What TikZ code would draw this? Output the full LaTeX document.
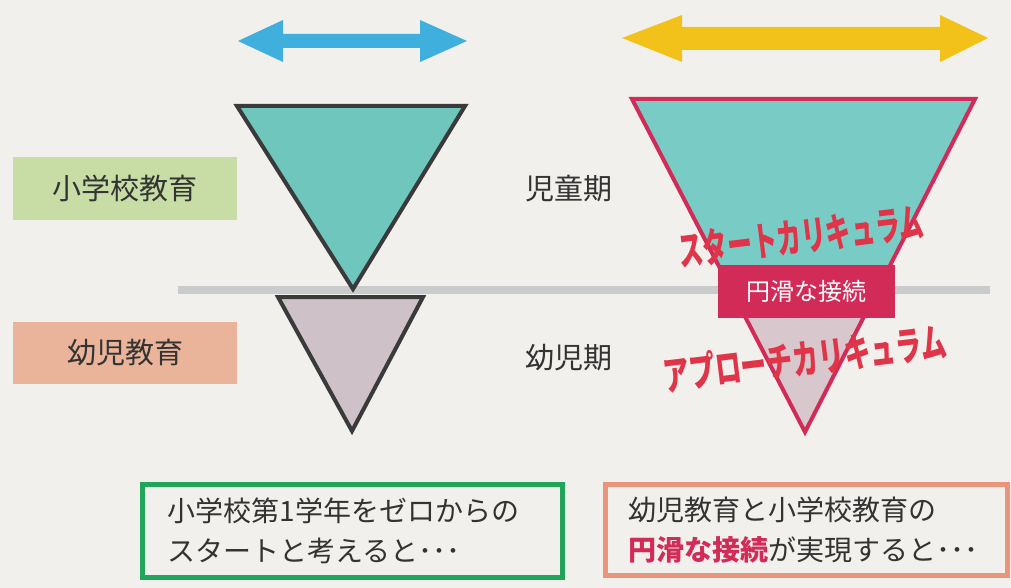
\documentclass[tikz,border=0pt]{standalone}
\usepackage{fontspec}
\setmainfont{Noto Sans CJK JP}
\definecolor{bg}{HTML}{F1F0EC}
\definecolor{txt}{HTML}{333333}
\definecolor{teal1}{HTML}{6EC6BD}
\definecolor{teal2}{HTML}{79CCC6}
\definecolor{lilac1}{HTML}{CFC1C8}
\definecolor{lilac2}{HTML}{D8C8CD}
\definecolor{edge}{HTML}{3A3A3A}
\definecolor{crim}{HTML}{D22B58}
\definecolor{redtxt}{HTML}{E03449}
\definecolor{gline}{HTML}{C9CBCD}
\definecolor{arrblue}{HTML}{3FB0DE}
\definecolor{arryel}{HTML}{F2C21B}
\definecolor{lgreen}{HTML}{C8DCA5}
\definecolor{lsalmon}{HTML}{EAB49B}
\definecolor{bgreen}{HTML}{1FA65A}
\definecolor{bsalmon}{HTML}{E8957C}
\tikzset{
  sidelabel/.style={minimum width=224pt, minimum height=62pt, inner sep=0pt,
    font=\fontsize{29}{34}\selectfont, text=txt},
  period/.style={font=\fontsize{29}{34}\selectfont, text=txt, inner sep=0pt},
  tri/.style={line width=4pt, line join=miter},
  curric/.style={font=\bfseries\fontsize{40}{44}\selectfont, text=redtxt, inner sep=0pt, rotate=7},
  msgbox/.style={line width=5pt, fill=bg, inner sep=0pt, align=left,
    font=\fontsize{28}{40}\selectfont, text=txt}
}
\begin{document}
\begin{tikzpicture}[x=1pt,y=-1pt]
\fill[bg] (0,0) rectangle (1011,588);
\useasboundingbox (0,0) rectangle (1011,588);

% arrows
\fill[arrblue] (238,41) -- (283,20) -- (283,34) -- (420,34) -- (420,20) -- (467,41)
  -- (420,62) -- (420,48) -- (283,48) -- (283,62) -- cycle;
\fill[arryel] (622,38) -- (682,15) -- (682,27) -- (940,27) -- (940,15) -- (988,38)
  -- (940,62) -- (940,50) -- (682,50) -- (682,62) -- cycle;

% grey separator
\draw[gline, line width=8pt] (178,290) -- (990,290);

% side labels
\node[sidelabel, fill=lgreen] (school) at (125,188.5) {小学校教育};
\node[sidelabel, fill=lsalmon] (kinder) at (125,353) {幼児教育};

% period labels
\node[period] (childhood) at (569,189) {児童期};
\node[period] (infancy) at (569,358) {幼児期};

% left triangles
\draw[tri, draw=edge, fill=teal1] (237,106) -- (465,106) -- (353,289) -- cycle;
\draw[tri, draw=edge, fill=lilac1] (278,297) -- (423,297) -- (352,431) -- cycle;

% right triangle
\begin{scope}
  \clip (632,99) -- (975,99) -- (805,432) -- cycle;
  \fill[teal2] (600,90) rectangle (1000,270);
  \fill[lilac2] (600,270) rectangle (1000,440);
\end{scope}
\draw[tri, draw=crim] (632,99) -- (975,99) -- (805,432) -- cycle;

\node[fill=crim, minimum width=177pt, minimum height=53pt, inner sep=0pt,
  text=white, font=\fontsize{24}{28}\selectfont] (smooth) at (806.5,291.5) {円滑な接続};

\node[curric, xscale=0.62] (startc) at (801,236) {スタートカリキュラム};
\node[curric, xscale=0.65] (approachc) at (805,358) {アプローチカリキュラム};

% bottom message boxes
\node[msgbox, draw=bgreen, minimum width=420pt, minimum height=93pt, text width=370pt]
  (msgl) at (352.5,531) {小学校第1学年をゼロからの\\スタートと考えると･･･};
\node[msgbox, draw=bsalmon, minimum width=402pt, minimum height=91pt, text width=355pt]
  (msgr) at (806,530) {幼児教育と小学校教育の\\{\bfseries\color{crim}円滑な接続}が実現すると･･･};
\end{tikzpicture}
\end{document}
